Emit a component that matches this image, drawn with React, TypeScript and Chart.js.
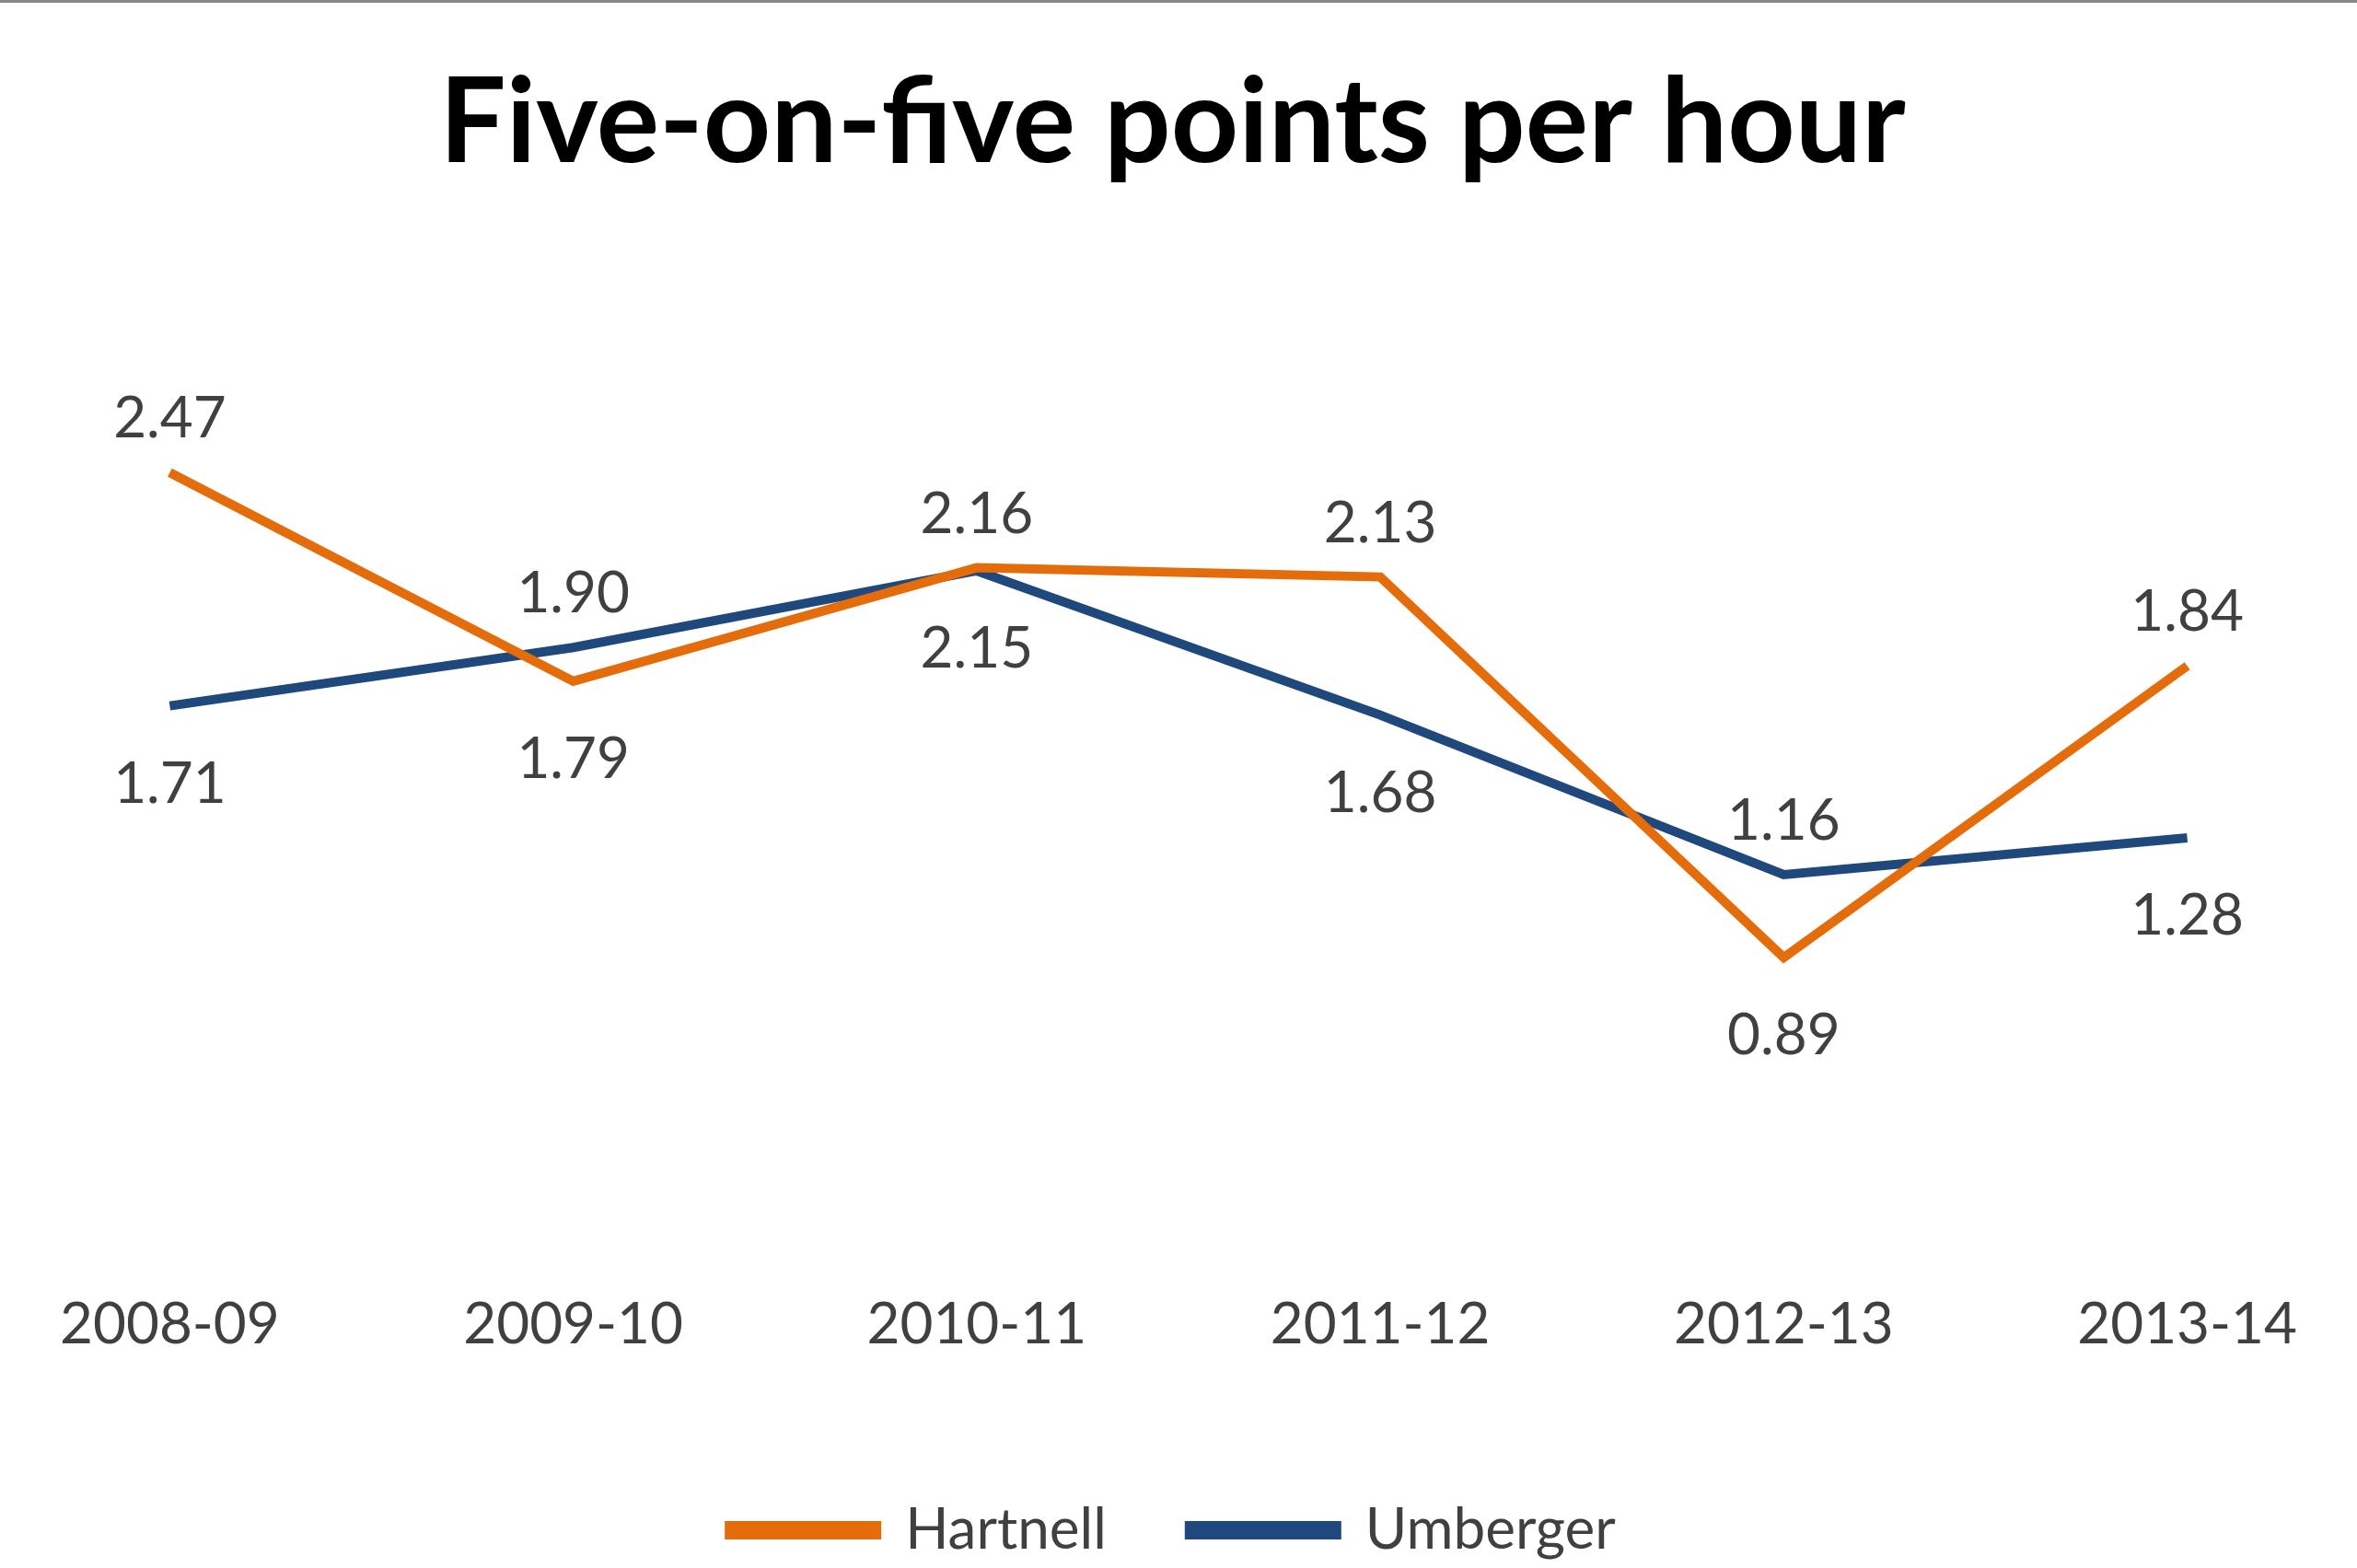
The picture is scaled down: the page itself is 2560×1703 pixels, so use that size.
import { useEffect, useRef } from "react"
import { Chart, registerables } from "chart.js"

Chart.register(...registerables)

const seasons = ["2008-09", "2009-10", "2010-11", "2011-12", "2012-13", "2013-14"]
const hartnell = [2.47, 1.79, 2.16, 2.13, 0.89, 1.84]
const umberger = [1.71, 1.9, 2.15, 1.68, 1.16, 1.28]
// where each value label sits relative to its point
const hartnellLabelPos = ["above", "below", "above", "above", "below", "above"]
const umbergerLabelPos = ["below", "above", "below", "below", "above", "below"]

const labelPlugin = {
  id: "valueLabels",
  afterDatasetsDraw(chart: Chart) {
    const ctx = chart.ctx
    const positions = [hartnellLabelPos, umbergerLabelPos]
    ctx.save()
    ctx.font = "62px Lato"
    ctx.fillStyle = "#404040"
    ctx.textAlign = "center"
    ctx.textBaseline = "middle"
    chart.data.datasets.forEach((ds, di) => {
      const meta = chart.getDatasetMeta(di)
      meta.data.forEach((pt, i) => {
        const v = ds.data[i] as number
        const dy = positions[di][i] === "above" ? -58 : 85
        ctx.fillText(v.toFixed(2), pt.x, pt.y + dy)
      })
    })
    ctx.restore()
  },
}

export default function App() {
  const chartRef = useRef<HTMLCanvasElement>(null)

  useEffect(() => {
    document.body.style.margin = "0"
    if (!chartRef.current) return
    const chart = new Chart(chartRef.current, {
      type: "line",
      data: {
        labels: seasons,
        datasets: [
          { label: "Hartnell", data: hartnell, borderColor: "#E46C0A", backgroundColor: "#E46C0A", borderWidth: 10, pointRadius: 0, tension: 0 },
          { label: "Umberger", data: umberger, borderColor: "#1F497D", backgroundColor: "#1F497D", borderWidth: 10, pointRadius: 0, tension: 0 },
        ],
      },
      options: {
        animation: false,
        responsive: false,
        layout: { padding: { left: 163, right: 176, top: 0, bottom: 0 } },
        scales: {
          y: { display: false, min: 0, max: 3 },
          x: {
            offset: false,
            grid: { display: false, drawTicks: false },
            border: { display: false },
            ticks: { padding: 65, font: { size: 62, family: "Lato" }, color: "#404040", maxRotation: 0 },
          },
        },
        plugins: {
          title: {
            display: true,
            text: "Five-on-five points per hour",
            font: { size: 128, family: "Lato", weight: "bold" },
            color: "#000000",
            padding: { top: 55, bottom: 125 },
          },
          legend: {
            position: "bottom",
            labels: { font: { size: 62, family: "Lato" }, color: "#404040", boxWidth: 160, boxHeight: 10, padding: 90 },
          },
          tooltip: { enabled: false },
        },
      },
      plugins: [labelPlugin],
    })
    return () => chart.destroy()
  }, [])

  return (
    <div style={{ width: 2560, height: 1703, borderTop: "3px solid #888", background: "#fff" }}>
      <canvas ref={chartRef} width={2560} height={1700} />
    </div>
  )
}
